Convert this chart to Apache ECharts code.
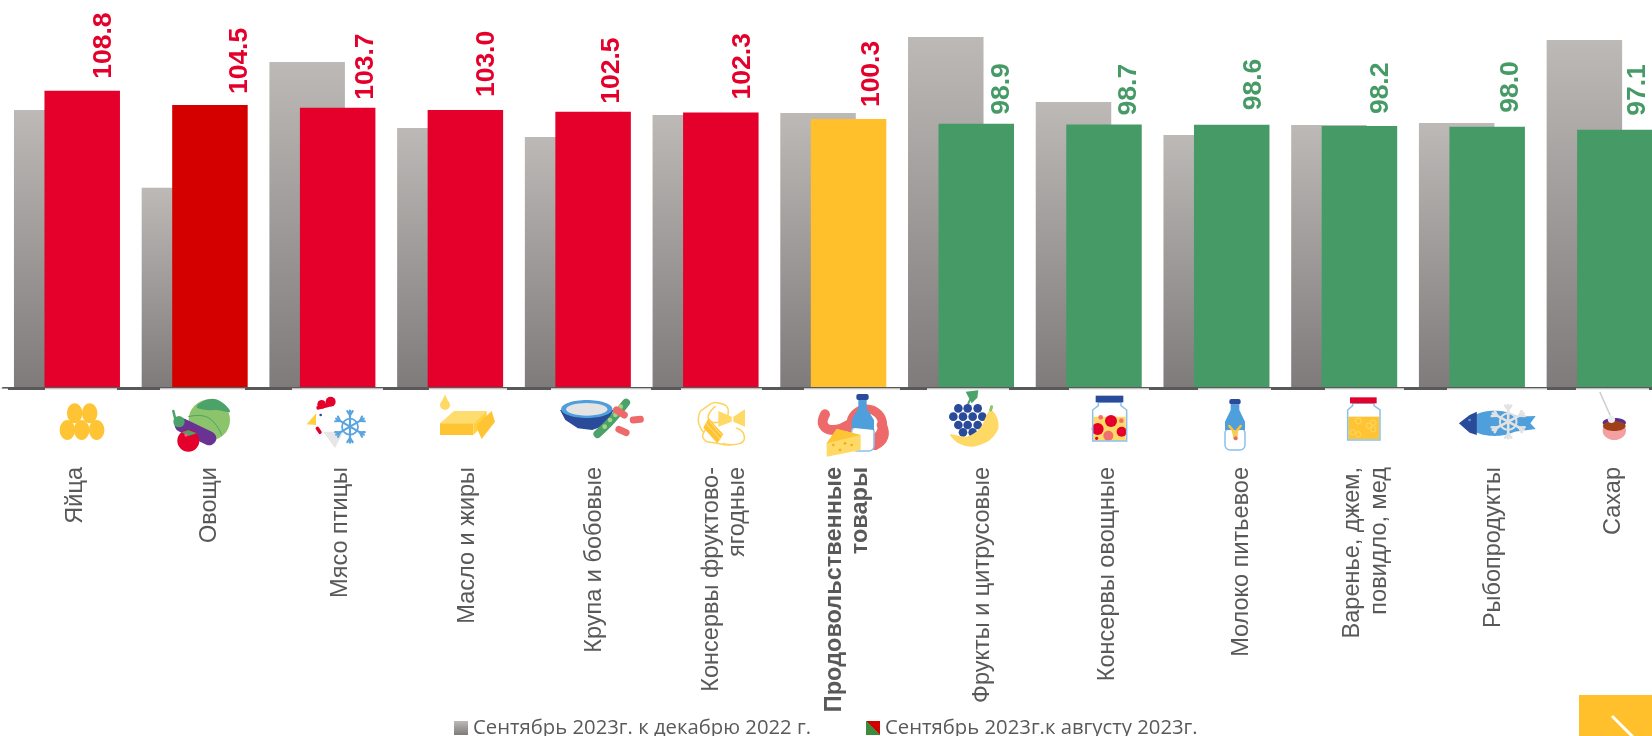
<!DOCTYPE html>
<html><head><meta charset="utf-8">
<style>html,body{margin:0;padding:0;background:#fff}#c{width:1652px;height:736px}</style>
<script src="https://cdn.jsdelivr.net/npm/echarts@6/dist/echarts.min.js"></script>
</head><body><div id="c"></div>
<script>
const categories = ['Яйца','Овощи','Мясо птицы','Масло и жиры','Крупа и бобовые','Консервы фруктово-\nягодные','Продовольственные\nтовары','Фрукты и цитрусовые','Консервы овощные','Молоко питьевое','Варенье, джем,\nповидло, мед','Рыбопродукты','Сахар'];
const decemberValues = [103.0,79.7,117.4,97.6,94.9,101.5,102.1,124.9,105.4,95.5,98.5,99.1,124.0];
const augustValues = [108.8,104.5,103.7,103.0,102.5,102.3,100.3,98.9,98.7,98.6,98.2,98.0,97.1];
const seriesNames = ['Сентябрь 2023г. к декабрю 2022 г.','Сентябрь 2023г.к августу 2023г.'];

// presentation only
const RED='#E4002B', DEEP='#D40000', YEL='#FFC02B', GRN='#459A66';
const barColors=[RED,DEEP,RED,RED,RED,RED,YEL,GRN,GRN,GRN,GRN,GRN,GRN];
const labelColors=[RED,RED,RED,RED,RED,RED,RED,GRN,GRN,GRN,GRN,GRN,GRN];
const labelShiftX=[21,29.5,28.5,21.6,19,22,23,25.5,25,22,21,23.5,22.5];
const labelGapY=[12,11,8,13,8,13,12,9,9,14.5,12,14,14];
const catShiftX=[9,14.5,18,17.5,16.5,19,14,21.5,19,25.5,22,22,13.5];
const axisMasks=[[0,8],[45,117],[160,245],[292,383],[429,507],[551,651],[681,762],[804,900],[927,1009],[1069,1149],[1198,1271],[1325,1404],[1447,1547],[1576,1649]];

const NAVY='#2A4A9A',BLUE='#4F9FDC',LBLUE='#8CC0EA',EGG='#FFC433',PALE='#FFD966',PINK='#EE6A6A',LEAF='#4BA36A',LG='#8CC46C';
const els=[];
let O=[0,0,1/3,1/3];
const X=x=>O[0]+x*O[2], Y=y=>O[1]+y*O[3], SR=r=>r*O[3];
const Z=60;
function circ(x,y,r,fill,stroke,w){els.push({type:'circle',z:Z,shape:{cx:X(x),cy:Y(y),r:SR(r)},style:{fill:fill||'none',stroke:stroke||null,lineWidth:w||0}});}
function ell(x,y,rx,ry,fill,rot){els.push({type:'ellipse',z:Z,x:X(x),y:Y(y),rotation:rot||0,shape:{cx:0,cy:0,rx:SR(rx),ry:SR(ry)},style:{fill}});}
function poly(pts,fill,stroke,w,smooth){els.push({type:'polygon',z:Z,shape:{points:pts.map(p=>[X(p[0]),Y(p[1])]),smooth:smooth||0},style:{fill:fill||'none',stroke:stroke||null,lineWidth:w||0}});}
function line(pts,stroke,w,smooth){els.push({type:'polyline',z:Z,shape:{points:pts.map(p=>[X(p[0]),Y(p[1])]),smooth:smooth||0},style:{fill:'none',stroke,lineWidth:w,lineCap:'round',lineJoin:'round'}});}
function rect(x0,y0,x1,y1,fill,stroke,w,r){els.push({type:'rect',z:Z,shape:{x:X(x0),y:Y(y0),width:X(x1)-X(x0),height:Y(y1)-Y(y0),r:r||0},style:{fill:fill||'none',stroke:stroke||null,lineWidth:w||0}});}
function flake(cx,cy,R,col,w){
  for(let a=0;a<6;a++){const t=a*Math.PI/3+Math.PI/2,c=Math.cos(t),s=Math.sin(t);
    line([[cx,cy],[cx+R*c,cy+R*s]],col,w);
    const b=R*0.72;
    [0.6,-0.6].forEach(d=>{const u=t+d;line([[cx+b*c,cy+b*s],[cx+b*c+R*0.3*Math.cos(u),cy+b*s+R*0.3*Math.sin(u)]],col,w);});
  }
  circ(cx,cy,R*0.5,null,col,w*0.8);
}
axisMasks.forEach(m=>els.push({type:'rect',z:40,shape:{x:m[0],y:388.6,width:m[1]-m[0],height:2},style:{fill:'#fff'}}));
axisMasks.slice(1).forEach(m=>els.push({type:'rect',z:41,shape:{x:m[0],y:388.6,width:m[1]-m[0],height:0.8},style:{fill:'#d6d6d6'}}));

// eggs + vegetables
O=[0,375,1/3,1/3];
[[224,115],[269,115],[202,165],[245,165],[290,165]].forEach(p=>ell(p[0],p[1],23,30,EGG));
circ(628,135,62,LG);
poly([[590,95],[625,73],[660,78],[690,110],[650,105],[620,105]],LEAF,null,0,0.4);
line([[565,125],[625,128],[665,180]],LEAF,1,0.5);
line([[545,150],[628,190]],'#6A3393',14);
line([[520,108],[530,150]],LEAF,2.5);circ(537,140,17,LEAF);
circ(565,197,33,RED);poly([[545,172],[565,165],[590,175],[565,183]],LEAF);circ(558,180,5,'#F58');
// chicken
O=[300,375,1/3,1/3];
poly([[70,170],[130,170],[105,220]],'#E6E6E6');
poly([[20,148],[48,115],[48,150]],'#FFD040');
circ(65,88,13,RED);circ(92,80,15,RED);line([[55,98],[85,90]],RED,4);
line([[52,160],[60,172]],RED,3.5);
circ(62,120,4,NAVY);
flake(150,155,48,'#5AA5DF',2.2);
// butter
circ(435,90,15,PALE);poly([[435,58],[423,85],[447,85]],PALE);
poly([[420,145],[462,108],[560,108],[520,145]],'#FFDC6E');
rect(420,145,520,180,EGG);
poly([[560,108],[520,145],[520,180],[560,140]],'#FFD040');
poly([[530,150],[575,108],[585,140],[545,192],[535,170]],EGG);
// bowl
O=[560,360,1/2.8,1/3];
poly([[0,150],[150,150],[130,195],[90,210],[50,205],[15,180]],NAVY);
ell(75,147,77,27,BLUE);ell(75,148,62,19,'#E4E4E4');
line([[185,128],[145,180],[105,222]],LEAF,8,0.4);
[[140,180],[155,165],[125,200],[170,140]].forEach(p=>circ(p[0],p[1],7,'#A6D37F'));
line([[158,150],[180,165]],PINK,7);line([[205,180],[225,178]],PINK,7);line([[165,208],[185,218]],PINK,7);
// pasta
O=[600,375,1/3,1/3];
line([[310,170],[295,130],[320,95],[360,85],[385,110],[360,140],[325,130],[345,95]],'#FFD25A',1.5,0.6);
line([[370,205],[420,205],[432,180],[410,160]],'#FFD25A',1.5,0.6);
line([[320,160],[310,190],[350,205],[390,210]],'#FFD25A',1.5,0.6);
poly([[355,108],[395,125],[395,140],[355,155]],PALE);
poly([[400,125],[435,103],[435,155],[400,140]],PALE);
poly([[325,130],[370,178],[352,205],[310,158]],EGG);
line([[318,145],[360,192]],'#FFE08A',1);line([[328,138],[366,182]],'#FFE08A',1);
// food basket
line([[675,118],[670,150],[700,165],[745,150]],PINK,10,0.5);
circ(800,150,48,null,PINK,9);
line([[845,150],[850,185],[825,210]],PINK,10,0.5);
rect(755,155,822,228,'#fff',LBLUE,1.5,5);
poly([[775,75],[800,75],[800,100],[822,135],[822,165],[755,158],[755,135],[775,100]],BLUE);
rect(769,57,806,75,NAVY,null,0,2);
poly([[680,205],[710,162],[782,180],[782,225],[680,245]],PALE);
poly([[680,205],[710,162],[782,180]],EGG);
[[700,210],[735,205],[755,210],[720,225]].forEach(p=>circ(p[0],p[1],4,'#EFAE1E'));
// fruits
O=[900,375,1/3,1/3];
line([[205,85],[212,70]],LEAF,2);poly([[197,50],[235,46],[232,68],[215,85]],LEAF);
[[175,100],[203,100],[233,100],[160,125],[189,125],[218,125],[247,125],[175,150],[203,150],[233,150],[189,172],[218,172]].forEach(p=>circ(p[0],p[1],13,NAVY));
poly([[150,178],[200,185],[240,160],[270,105],[290,125],[295,160],[270,195],[220,215],[175,205]],PALE,null,0,0.3);
line([[272,105],[275,95]],LG,3);
// vegetable jar
rect(580,125,677,197,PALE);
circ(633,138,18,RED);circ(593,162,18,RED);circ(665,170,15,RED);circ(625,182,15,'#F07070');circ(602,127,7,'#F07070');circ(664,137,7,'#F07070');circ(590,190,5,RED);
poly([[595,82],[663,82],[663,92],[680,105],[680,198],[578,198],[578,105],[595,92]],null,LBLUE,1.5);
rect(587,62,670,82,NAVY);
// milk
O=[1200,375,1/3,1/3];
rect(75,160,135,225,'#fff',LBLUE,1.5,5);
poly([[92,88],[118,88],[118,105],[135,140],[135,165],[75,165],[75,140],[92,105]],BLUE);
rect(88,72,122,88,NAVY,null,0,2);
poly([[95,165],[115,165],[112,190],[107,197],[100,190]],'#F5CE5A');
line([[88,153],[98,165]],EGG,2.5);line([[122,153],[112,165]],EGG,2.5);
circ(107,190,6,PINK);
// jam jar
rect(445,125,538,193,EGG);
[[475,138,9],[507,152,8],[520,143,8],[520,163,8],[458,172,8],[475,178,8]].forEach(c=>circ(c[0],c[1],c[2],null,PALE,1));
poly([[458,85],[522,85],[522,92],[540,105],[540,195],[443,195],[443,105],[458,92]],null,LBLUE,1.5);
rect(450,67,530,85,RED);
// fish
O=[1100,360,1/2.8,1/3];
ell(1105,190,80,38,BLUE);
poly([[1160,170],[1220,168],[1205,190],[1220,207],[1160,215]],BLUE);
poly([[1005,190],[1035,165],[1055,155],[1055,225],[1035,218]],NAVY);
circ(1035,180,4,BLUE);
flake(1143,185,50,'#E2E2E2',2.6);
// sugar
line([[1400,97],[1428,165]],'#CFCFCF',1.5);
ell(1440,212,35,28,'#F5A0A0');
ell(1440,188,35,14,'#5B2C93');
ell(1440,198,34,15,'#A0401A');
circ(1432,178,11,'#EDEDED');
// corner badge
els.push({type:'rect',z:70,shape:{x:1579,y:695,width:73,height:41},style:{fill:YEL}});
els.push({type:'line',z:71,shape:{x1:1612,y1:716,x2:1634,y2:738},style:{stroke:'#fff',lineWidth:3}});

const FF='"Liberation Sans",Arial,sans-serif';
const catRich={};
categories.forEach((c,i)=>{
  catRich['s'+i]={color:'#595959',fontSize:23.5,fontFamily:FF,fontWeight:i===6?'bold':'normal',padding:[2*catShiftX[i],0,0,0]};
});
const richLabel=v=>{const i=categories.indexOf(v);return v.split('\n').map(t=>'{s'+i+'|'+t+'}').join('\n');};
const chart=echarts.init(document.getElementById('c'),null,{renderer:'canvas'});
chart.setOption({
  animation:false,
  backgroundColor:'#fff',
  grid:{left:3.1,width:1660.4,top:0,height:387,containLabel:false,outerBoundsMode:'none'},
  legend:{left:449,top:713,itemWidth:14,itemHeight:14,itemGap:55,icon:'rect',
    textStyle:{color:'#595959',fontSize:20.3,fontFamily:'"Open Sans","Noto Sans",sans-serif'},
    data:seriesNames},
  xAxis:{type:'category',offset:1.5,data:categories,
    axisTick:{show:false},
    axisLine:{lineStyle:{color:'#595959',width:3}},
    axisLabel:{interval:0,rotate:90,margin:78.5,color:'#595959',fontSize:23.5,lineHeight:26.5,fontFamily:FF,hideOverlap:false,formatter:richLabel,rich:catRich}},
  yAxis:{type:'value',min:20,max:136,show:false,splitLine:{show:false}},
  series:[
    {name:seriesNames[0],type:'bar',barWidth:75.5,barGap:'-59.6%',data:decemberValues,
     itemStyle:{color:new echarts.graphic.LinearGradient(0,0,0,1,[{offset:0,color:'#BCB9B7'},{offset:1,color:'#7F7B7A'}])}},
    {name:seriesNames[1],type:'bar',barWidth:75.5,
     itemStyle:{color:new echarts.graphic.LinearGradient(0,1,1,0,[{offset:0,color:'#3E8A3E'},{offset:.5,color:'#3E8A3E'},{offset:.5,color:'#D40000'},{offset:1,color:'#D40000'}])},
     data:augustValues.map((v,i)=>({value:v,itemStyle:{color:barColors[i]},
       label:{show:true,position:'top',distance:0,rotate:90,align:'left',verticalAlign:'middle',
         offset:[labelGapY[i],labelShiftX[i]],formatter:p=>p.value.toFixed(1),
         color:labelColors[i],fontWeight:'bold',fontSize:26.5,fontFamily:FF}}))}
  ],
  graphic:{elements:els}
});
</script></body></html>
